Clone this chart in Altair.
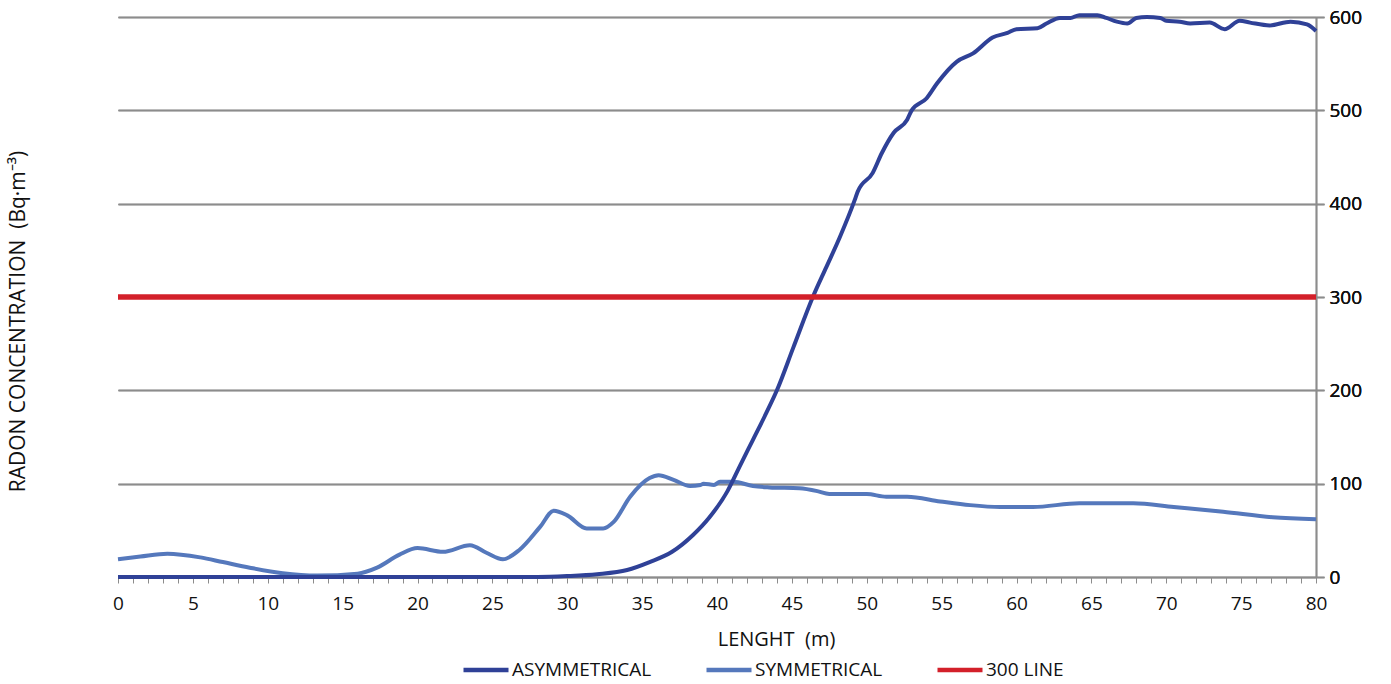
import altair as alt
import pandas as pd

# ---- data ----
asym_x = [0, 5, 10, 15, 20, 25, 28, 30, 32, 34, 35.5, 37, 38.4, 39.5, 40.7, 41.5, 42.4, 43.3, 44,
          45.1, 46.4, 47.3, 48.2, 49.2, 49.4, 50.4, 51, 51.8, 52.7, 53, 54, 54.7, 56, 57.1, 58.4,
          59.4, 60, 61.4, 62, 62.9, 63.6, 64.2, 65.4, 66, 66.7, 67.4, 68, 68.7, 69.6, 70, 70.9,
          71.6, 72.9, 73.9, 74.9, 75.6, 76.9, 78.3, 79.4, 80]
asym_y = [0, 0, 0, 0, 0, 0, 0, 1, 3, 7.5, 16, 27, 45, 64, 92, 118, 147, 176, 200,
          246, 300, 332, 364, 404, 413, 433, 454, 476, 490, 500, 513, 529, 552, 561, 578,
          583, 587, 588, 593, 599, 599, 602, 602, 599, 595, 593, 599, 600, 599, 596, 595,
          593, 594, 587, 596, 594, 591, 595, 592, 585]

sym_x = [0, 1.5, 3.3, 5.5, 7, 8.8, 11, 13.3, 16, 17.3, 18.8, 20, 21.7, 23.5, 24.6, 25.7, 26.8,
         28.2, 29.1, 30, 31.3, 32.4, 33.1, 34.2, 35.5, 36.1, 37.1, 38.2, 38.9, 39.1, 39.8, 40.2,
         41.1, 42.4, 43.5, 45.5, 46.7, 47.5, 50, 51.3, 52.7, 54.9, 56.9, 58.9, 61.1, 64.2, 67.8,
         70.5, 73.8, 77.1, 80]
sym_y = [19, 22, 25, 21, 16, 10, 4, 1.5, 3.5, 10, 24, 31, 27, 34, 26, 19, 29,
         54, 71, 66, 52, 52, 59, 86, 106, 109, 104, 97.5, 98.6, 100, 98.6, 102,
         102, 97.5, 96, 95, 92, 89, 89, 86, 86, 81, 77, 75, 75, 79, 79,
         75, 70, 64, 62]

line300_x = [0, 80]
line300_y = [300, 300]

series_names = ["ASYMMETRICAL", "SYMMETRICAL", "300 LINE"]
series_colors = ["#2F4197", "#5578BC", "#D3202A"]

x_ticks = list(range(0, 81))
y_ticks = [0, 100, 200, 300, 400, 500, 600]

rows = []
for xs, ys, name in [(asym_x, asym_y, series_names[0]),
                     (sym_x, sym_y, series_names[1]),
                     (line300_x, line300_y, series_names[2])]:
    for a, b in zip(xs, ys):
        rows.append({"x": a, "y": b, "series": name})
df = pd.DataFrame(rows)

FONT = "Open Sans"
NB = "\u00a0"

x_enc = alt.X("x:Q",
              scale=alt.Scale(domain=[0, 80], nice=False, zero=False),
              axis=alt.Axis(values=x_ticks,
                            labelExpr="datum.value % 5 == 0 ? datum.label : ''",
                            labelOverlap=False, labelFlush=False,
                            grid=False, domain=True, domainColor="#8c8c8c", domainWidth=1.5,
                            tickColor="#8c8c8c", tickSize=6, tickWidth=1,
                            labelFontSize=19, labelColor="#111111", labelPadding=11,
                            title="LENGHT " + NB + "(m)", titleFontSize=20,
                            titleFontWeight="normal",
                            titleColor="#111111", titleX=658, titleY=68,
                            titleAlign="center", titleBaseline="alphabetic"))

y_right = alt.Y("y:Q",
                scale=alt.Scale(domain=[0, 600], nice=False),
                axis=alt.Axis(orient="right", values=y_ticks, grid=True,
                              gridColor="#8c8c8c", gridWidth=1.5,
                              domain=True, domainColor="#8c8c8c", domainWidth=1.5,
                              tickColor="#8c8c8c", tickSize=8, tickWidth=1.5,
                              labelFontSize=19, labelColor="#111111", labelPadding=5,
                              title=None))

y_left = alt.Y("y:Q",
               scale=alt.Scale(domain=[0, 600], nice=False),
               axis=alt.Axis(orient="left", grid=False, domain=False, ticks=False,
                             labels=False,
                             title="RADON CONCENTRATION " + NB + "(Bq·m⁻³)",
                             titleFontSize=21, titleFontWeight="normal", titleColor="#111111",
                             titleX=-100, titleY=304, titleAngle=270,
                             titleAlign="center", titleBaseline="middle"))

color_enc = alt.Color("series:N",
                      scale=alt.Scale(domain=series_names, range=series_colors),
                      legend=alt.Legend(title=None, orient="none", direction="horizontal",
                                        legendX=343, legendY=628,
                                        symbolType="stroke", symbolSize=2025,
                                        symbolStrokeWidth=4.5, labelFontSize=19,
                                        labelColor="#111111", labelOffset=1,
                                        columnPadding=45, labelLimit=400))

base = alt.Chart(df)

title_layer = base.mark_line(opacity=0).encode(x=x_enc, y=y_left)

sym_layer = base.transform_filter(alt.datum.series == "SYMMETRICAL").mark_line(
    interpolate="monotone", strokeWidth=4).encode(x=x_enc, y=y_right, color=color_enc)
asym_layer = base.transform_filter(alt.datum.series == "ASYMMETRICAL").mark_line(
    interpolate="monotone", strokeWidth=4).encode(x=x_enc, y=y_right, color=color_enc)
red_layer = base.transform_filter(alt.datum.series == "300 LINE").mark_line(
    strokeWidth=5.5).encode(x=x_enc, y=y_right, color=color_enc)

chart = alt.layer(title_layer, sym_layer, asym_layer, red_layer).resolve_axis(
    y="independent").properties(
    width=1198, height=560,
    autosize=alt.AutoSizeParams(type="none"),
    padding={"left": 118, "top": 17, "right": 75, "bottom": 107},
).configure(font=FONT, background="white").configure_view(stroke=None)

chart.save("out.html", embed_options={"renderer": "svg", "actions": False})
